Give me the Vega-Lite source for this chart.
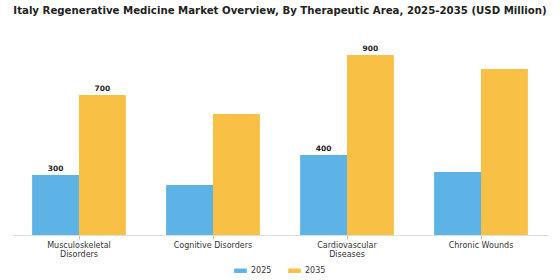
{
  "$schema": "https://vega.github.io/schema/vega-lite/v6.json",
  "autosize": "none",
  "width": 536,
  "height": 200,
  "padding": {"left": 12, "top": 35, "right": 12, "bottom": 45},
  "background": "white",
  "config": {"view": {"stroke": null}},
  "title": {
    "text": "Italy Regenerative Medicine Market Overview, By Therapeutic Area, 2025-2035 (USD Million)",
    "font": "DejaVu Sans",
    "fontSize": 10.2,
    "fontWeight": "bold",
    "color": "#222222",
    "anchor": "middle",
    "offset": 19
  },
  "data": {
    "values": [
      {"area": "Musculoskeletal Disorders", "year": "2025", "value": 300, "label": "300"},
      {"area": "Musculoskeletal Disorders", "year": "2035", "value": 700, "label": "700"},
      {"area": "Cognitive Disorders", "year": "2025", "value": 250, "label": ""},
      {"area": "Cognitive Disorders", "year": "2035", "value": 605, "label": ""},
      {"area": "Cardiovascular Diseases", "year": "2025", "value": 400, "label": "400"},
      {"area": "Cardiovascular Diseases", "year": "2035", "value": 900, "label": "900"},
      {"area": "Chronic Wounds", "year": "2025", "value": 315, "label": ""},
      {"area": "Chronic Wounds", "year": "2035", "value": 830, "label": ""}
    ]
  },
  "encoding": {
    "x": {
      "field": "area",
      "type": "nominal",
      "sort": null,
      "scale": {"paddingInner": 0.3, "paddingOuter": 0.15},
      "axis": {
        "title": null,
        "labelAngle": 0,
        "labelFont": "DejaVu Sans",
        "labelFontSize": 8,
        "labelColor": "#333333",
        "labelExpr": "datum.value == 'Musculoskeletal Disorders' ? ['Musculoskeletal', 'Disorders'] : datum.value == 'Cardiovascular Diseases' ? ['Cardiovascular', 'Diseases'] : datum.value",
        "labelLineHeight": 9,
        "domainColor": "#dddddd",
        "tickColor": "#bbbbbb",
        "tickSize": 4,
        "labelPadding": 2
      }
    },
    "xOffset": {"field": "year", "type": "nominal"},
    "y": {
      "field": "value",
      "type": "quantitative",
      "scale": {"domain": [0, 1000]},
      "axis": null
    }
  },
  "layer": [
    {
      "mark": {"type": "bar"},
      "encoding": {
        "color": {
          "field": "year",
          "type": "nominal",
          "scale": {"domain": ["2025", "2035"], "range": ["#5DB3E6", "#F8C146"]},
          "legend": {
            "title": null,
            "orient": "none",
            "legendX": 222,
            "legendY": 229,
            "direction": "horizontal",
            "symbolType": "M-1,-0.35H1V0.35H-1Z",
            "symbolSize": 160,
            "symbolStrokeWidth": 0,
            "labelFont": "DejaVu Sans",
            "labelFontSize": 8,
            "labelColor": "#333333",
            "columnPadding": 16
          }
        }
      }
    },
    {
      "mark": {"type": "text", "dy": -6, "font": "DejaVu Sans", "fontSize": 7.5, "fontWeight": "bold", "color": "#222222"},
      "encoding": {"text": {"field": "label"}}
    }
  ]
}
